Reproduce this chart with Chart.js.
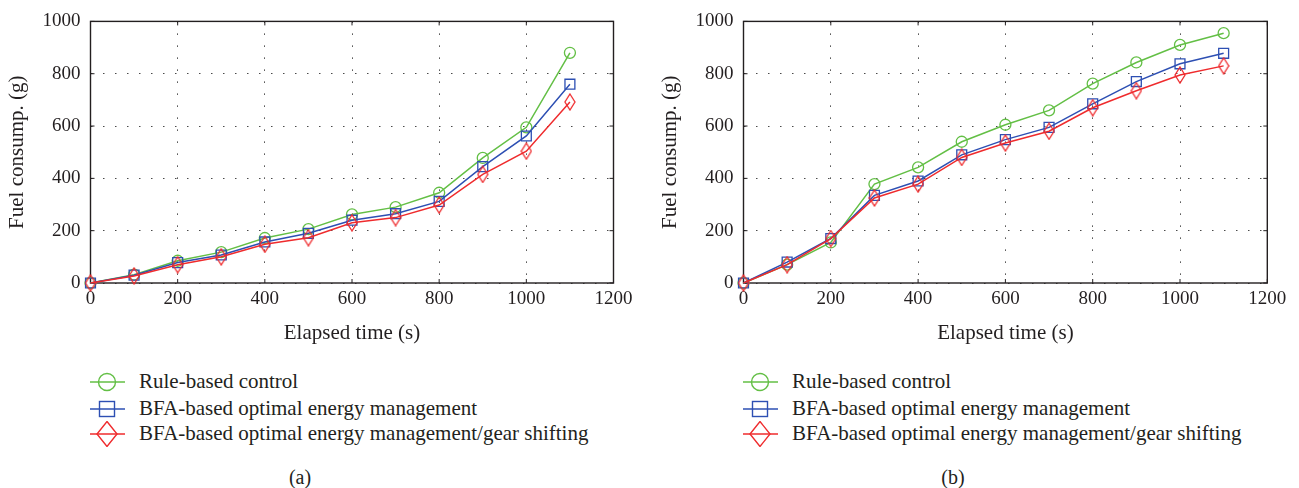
<!DOCTYPE html>
<html>
<head>
<meta charset="utf-8">
<script src="https://cdn.jsdelivr.net/npm/chart.js@4.4.1/dist/chart.umd.min.js"></script>
<style>
  body { margin: 0; background: #fff; width: 1299px; height: 488px; position: relative; overflow: hidden;
         font-family: "Liberation Serif", "DejaVu Serif", serif; color: #231f20; }
  .panel { position: absolute; top: 0; }
  .legend { position: absolute; top: 0; font-size: 21px; }
  .row { position: absolute; left: 0; height: 26px; line-height: 26px; white-space: nowrap; }
  .row svg { position: absolute; left: 0; top: 0; }
  .row span { position: absolute; left: 49px; top: -1px; }
  .caption { position: absolute; top: 465px; width: 60px; margin-left: -30px; text-align: center;
             font-size: 20px; line-height: 24px; }
</style>
</head>
<body>
<canvas id="chartA" class="panel" width="650" height="350" style="left:0"></canvas>
<canvas id="chartB" class="panel" width="646" height="350" style="left:653px"></canvas>
<div id="legendA" class="legend" style="left:90px"></div>
<div id="legendB" class="legend" style="left:743px"></div>
<div class="caption" style="left:300px">(a)</div>
<div class="caption" style="left:953px">(b)</div>

<script>
  // elapsed time (s) for every sample
  const elapsedTime = [0, 100, 200, 300, 400, 500, 600, 700, 800, 900, 1000, 1100];

  // panel (a)
  const ruleA = [0, 32, 85, 118, 172, 206, 262, 290, 345, 478, 595, 880];
  const bfaA = [0, 30, 78, 107, 157, 190, 240, 265, 312, 445, 562, 760];
  const gearA = [0, 27, 70, 100, 148, 173, 230, 250, 298, 415, 504, 692];

  // panel (b)
  const ruleB = [0, 70, 155, 378, 442, 540, 605, 660, 762, 843, 910, 955];
  const bfaB = [0, 80, 170, 335, 390, 490, 548, 595, 685, 770, 838, 878];
  const gearB = [0, 70, 170, 325, 378, 480, 535, 580, 670, 735, 795, 830];

  const seriesNames = [
    "Rule-based control",
    "BFA-based optimal energy management",
    "BFA-based optimal energy management/gear shifting"
  ];

  const xTicks = [0, 200, 400, 600, 800, 1000, 1200];
  const yTicks = [0, 200, 400, 600, 800, 1000];

  const green = "#63bf45";
  const blue = "#2d4fb3";
  const red = "#ef2b2d";
  const ink = "#231f20";
  const fontFamily = '"Liberation Serif", "DejaVu Serif", serif';

  function diamondImage(w, h, color) {
    const c = document.createElement("canvas");
    c.width = w + 2;
    c.height = h + 2;
    const g = c.getContext("2d");
    g.strokeStyle = color;
    g.lineWidth = 1.3;
    g.beginPath();
    g.moveTo(1 + w / 2, 1);
    g.lineTo(1 + w, 1 + h / 2);
    g.lineTo(1 + w / 2, 1 + h);
    g.lineTo(1, 1 + h / 2);
    g.closePath();
    g.stroke();
    return c;
  }

  const framePlugin = {
    id: "frame",
    beforeDatasetsDraw(chart) {
      const { ctx, chartArea: a, scales } = chart;
      ctx.save();
      ctx.strokeStyle = ink;
      ctx.lineWidth = 1.4;
      ctx.strokeRect(a.left, a.top, a.right - a.left, a.bottom - a.top);
      ctx.lineWidth = 1;
      ctx.beginPath();
      scales.x.ticks.forEach((t) => {
        const px = scales.x.getPixelForValue(t.value);
        ctx.moveTo(px, a.bottom);
        ctx.lineTo(px, a.bottom - 4);
        ctx.moveTo(px, a.top);
        ctx.lineTo(px, a.top + 4);
      });
      scales.y.ticks.forEach((t) => {
        const py = scales.y.getPixelForValue(t.value);
        ctx.moveTo(a.left, py);
        ctx.lineTo(a.left + 4, py);
        ctx.moveTo(a.right, py);
        ctx.lineTo(a.right - 4, py);
      });
      ctx.stroke();
      ctx.restore();
    }
  };

  function points(values) {
    return values.map((v, i) => ({ x: elapsedTime[i], y: v }));
  }

  function dataset(label, values, color, style, radius, order) {
    return {
      label,
      data: points(values),
      borderColor: color,
      borderWidth: 1.5,
      pointStyle: style,
      pointRadius: radius,
      pointBorderColor: color,
      pointBackgroundColor: "rgba(0,0,0,0)",
      pointBorderWidth: 1.3,
      clip: false,
      order
    };
  }

  function buildChart(id, rule, bfa, gear, rightPad) {
    const ctx = document.getElementById(id).getContext("2d");
    new Chart(ctx, {
      type: "line",
      data: {
        datasets: [
          dataset(seriesNames[0], rule, green, "circle", 5.5, 3),
          dataset(seriesNames[1], bfa, blue, "rect", 7, 2),
          dataset(seriesNames[2], gear, red, diamondImage(10, 16, red), 7, 1)
        ]
      },
      options: {
        responsive: false,
        animation: false,
        events: [],
        layout: { padding: { left: 0, top: 15.7, right: rightPad, bottom: 0 } },
        plugins: { legend: { display: false }, tooltip: { enabled: false } },
        scales: {
          x: {
            type: "linear",
            min: xTicks[0],
            max: xTicks[xTicks.length - 1],
            afterBuildTicks: (s) => { s.ticks = xTicks.map((v) => ({ value: v })); },
            afterFit: (s) => { s.height = 67; },
            grid: { color: "#4a4a4a", lineWidth: 1, drawTicks: false },
            border: { display: false, dash: [1.5, 10.5] },
            ticks: {
              color: ink, padding: 5, maxRotation: 0,
              font: { family: fontFamily, size: 19 },
              callback: (v) => String(v)
            },
            title: {
              display: true,
              text: "Elapsed time (s)",
              color: ink,
              padding: { top: 0, bottom: 4.4 },
              font: { family: fontFamily, size: 21, lineHeight: 1.2 }
            }
          },
          y: {
            min: yTicks[0],
            max: yTicks[yTicks.length - 1],
            afterBuildTicks: (s) => { s.ticks = yTicks.map((v) => ({ value: v })); },
            afterFit: (s) => { s.width = 90.5; },
            grid: { color: "#4a4a4a", lineWidth: 1, drawTicks: false },
            border: { display: false, dash: [1.5, 10.5] },
            ticks: {
              color: ink, padding: 10,
              font: { family: fontFamily, size: 19 },
              callback: (v) => String(v)
            },
            title: {
              display: true,
              text: "Fuel consump. (g)",
              color: ink,
              padding: { top: 4.4, bottom: 0 },
              font: { family: fontFamily, size: 21, lineHeight: 1.2 }
            }
          }
        }
      },
      plugins: [framePlugin]
    });
  }

  function legendMarker(kind, color) {
    let shape = "";
    if (kind === "circle") {
      shape = '<circle cx="17" cy="13" r="8.5" fill="none" stroke="' + color + '" stroke-width="1.4"/>';
    } else if (kind === "rect") {
      shape = '<rect x="9.5" y="5.5" width="15" height="15" fill="none" stroke="' + color + '" stroke-width="1.4"/>';
    } else {
      shape = '<polygon points="17,0.5 27,13 17,25.5 7,13" fill="none" stroke="' + color + '" stroke-width="1.4"/>';
    }
    return '<svg width="36" height="26" viewBox="0 0 36 26">' +
      '<line x1="0" y1="13" x2="35" y2="13" stroke="' + color + '" stroke-width="1.5"/>' + shape + "</svg>";
  }

  function buildLegend(id) {
    const box = document.getElementById(id);
    const kinds = ["circle", "rect", "diamond"];
    const colors = [green, blue, red];
    const centers = [381.7, 409, 434];
    seriesNames.forEach((name, i) => {
      const row = document.createElement("div");
      row.className = "row";
      row.style.top = (centers[i] - 13) + "px";
      row.innerHTML = legendMarker(kinds[i], colors[i]) + "<span>" + name + "</span>";
      box.appendChild(row);
    });
  }

  buildChart("chartA", ruleA, bfaA, gearA, 36.5);
  buildChart("chartB", ruleB, bfaB, gearB, 31.7);
  buildLegend("legendA");
  buildLegend("legendB");
</script>
</body>
</html>
